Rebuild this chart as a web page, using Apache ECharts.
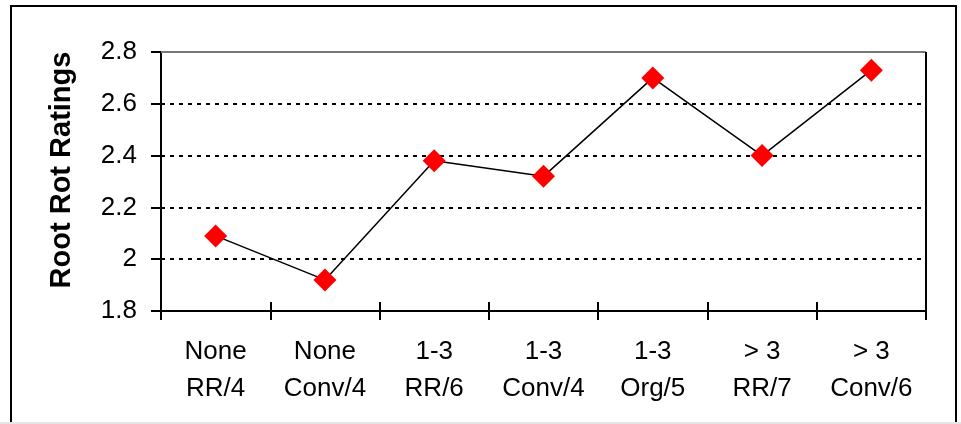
<!DOCTYPE html>
<html><head><meta charset="utf-8">
<script src="https://cdn.jsdelivr.net/npm/echarts@6/dist/echarts.min.js"></script>
<style>html,body{margin:0;padding:0;background:#fff}#c{width:961px;height:424px}</style>
</head><body><div id="c"></div>
<script>
var categories = ['None\nRR/4','None\nConv/4','1-3\nRR/6','1-3\nConv/4','1-3\nOrg/5','> 3\nRR/7','> 3\nConv/6'];
var ratings = [2.09, 1.92, 2.38, 2.32, 2.70, 2.40, 2.73];
var yTicks = {min: 1.8, max: 2.8, interval: 0.2};
var yTitle = 'Root Rot Ratings';

var FONT = '"Liberation Sans", Arial, sans-serif';
var chart = echarts.init(document.getElementById('c'), null, {renderer: 'canvas'});
chart.setOption({
  animation: false,
  backgroundColor: '#fff',
  grid: {left: 161, right: 35, top: 52, bottom: 113},
  graphic: [
    {type: 'rect', shape: {x: 11, y: 6, width: 945, height: 430}, style: {fill: 'none', stroke: '#000', lineWidth: 2}},
    {type: 'line', shape: {x1: 0, y1: 423, x2: 961, y2: 423}, style: {stroke: '#e6e6e6', lineWidth: 2}},
    {type: 'line', shape: {x1: 926, y1: 52, x2: 926, y2: 320}, style: {stroke: '#000', lineWidth: 2}, z: 10},
    {type: 'line', shape: {x1: 161, y1: 52, x2: 926, y2: 52}, style: {stroke: '#777', lineWidth: 2}, z: 1},
    {type: 'text', x: 62, y: 170, rotation: Math.PI / 2, style: {text: yTitle, font: 'bold 29px ' + FONT, fill: '#000', align: 'center', verticalAlign: 'middle'}}
  ],
  xAxis: [{
    type: 'category',
    data: categories,
    boundaryGap: true,
    axisLine: {lineStyle: {color: '#000', width: 2}},
    axisTick: {show: true, inside: false, length: 9, lineStyle: {color: '#000', width: 2}, interval: 0},
    axisLabel: {color: '#000', fontSize: 26, fontFamily: FONT, lineHeight: 37, margin: 22, interval: 0},
    splitLine: {show: false}
  }, {
    type: 'category',
    data: categories,
    position: 'bottom',
    boundaryGap: true,
    axisLine: {show: false},
    axisTick: {show: true, inside: true, length: 9, lineStyle: {color: '#000', width: 2}, interval: 0},
    axisLabel: {show: false},
    splitLine: {show: false}
  }],
  yAxis: [{
    type: 'value',
    min: yTicks.min, max: yTicks.max, interval: yTicks.interval,
    axisLine: {show: true, lineStyle: {color: '#000', width: 2}},
    axisTick: {show: true, length: 10, lineStyle: {color: '#000', width: 2}},
    axisLabel: {color: '#000', fontSize: 26, fontFamily: FONT, margin: 24,
      formatter: function (v) { return String(Math.round(v * 10) / 10); }},
    splitLine: {show: true, lineStyle: {color: '#000', type: [4, 5], width: 2}}
  }, {
    type: 'value',
    position: 'left',
    min: yTicks.min, max: yTicks.max, interval: yTicks.interval,
    axisLine: {show: false},
    axisTick: {show: true, inside: true, length: 4, lineStyle: {color: '#000', width: 2}},
    axisLabel: {show: false},
    splitLine: {show: false}
  }],
  series: [{
    type: 'line',
    data: ratings,
    symbol: 'diamond',
    symbolSize: 23,
    itemStyle: {color: '#ff0000', borderWidth: 0},
    lineStyle: {color: '#000', width: 1.5},
    z: 5
  }]
});
</script></body></html>
